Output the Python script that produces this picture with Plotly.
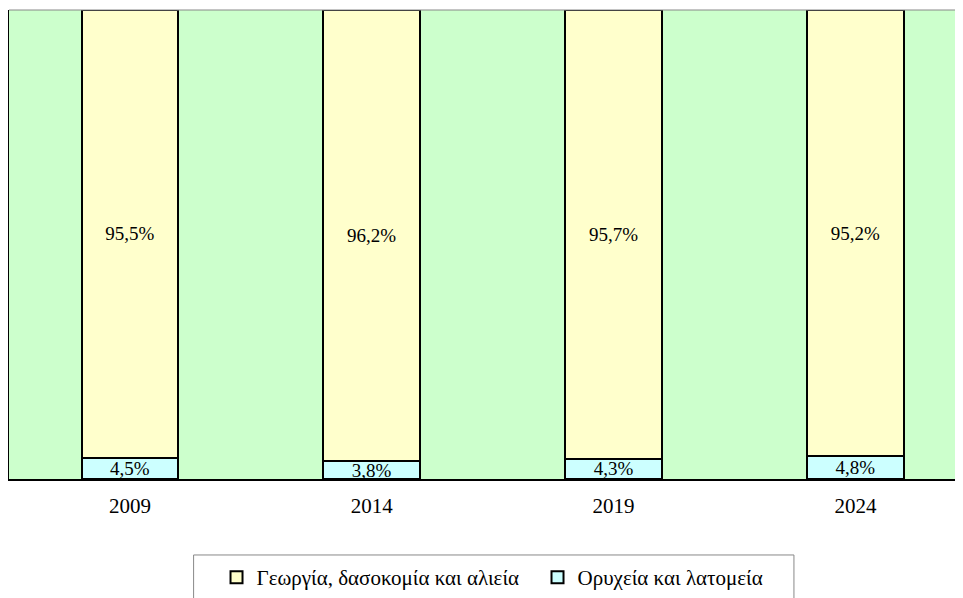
import plotly.graph_objects as go

years = ["2009", "2014", "2019", "2024"]
agri = [95.5, 96.2, 95.7, 95.2]
mining = [4.5, 3.8, 4.3, 4.8]
agri_name = "Γεωργία, δασοκομία και αλιεία"
mining_name = "Ορυχεία και λατομεία"

def fmt(v):
    return f"{v:.1f}".replace(".", ",") + "%"

FONT = "Liberation Serif, Times New Roman, serif"

fig = go.Figure()
fig.add_trace(go.Bar(
    x=years, y=mining, name=mining_name,
    marker=dict(color="#CCFFFF", line=dict(color="black", width=2)),
    text=[fmt(v) for v in mining], textposition="inside", insidetextanchor="middle",
    textfont=dict(family=FONT, size=19, color="black"), hoverinfo="skip",
))
fig.add_trace(go.Bar(
    x=years, y=agri, name=agri_name,
    marker=dict(color="#FFFFCC", line=dict(color="black", width=2)),
    text=[fmt(v) for v in agri], textposition="inside", insidetextanchor="middle",
    textfont=dict(family=FONT, size=19, color="black"), hoverinfo="skip",
))

fig.update_layout(
    width=955, height=590,
    margin=dict(l=1, r=0, t=2, b=119),
    barmode="stack", bargap=0.6,
    paper_bgcolor="white", plot_bgcolor="#CCFFCC",
    font=dict(family=FONT, size=19, color="black"),
    uniformtext=dict(minsize=19, mode="show"),
    showlegend=True,
    legend=dict(orientation="h", traceorder="reversed",
                x=0.554, xanchor="center", y=-0.211, yanchor="middle",
                font=dict(family=FONT, size=21, color="black"),
                bgcolor="rgba(0,0,0,0)", itemwidth=30,
                entrywidth=276, entrywidthmode="pixels"),
    xaxis=dict(type="category", range=[-0.5, 3.445], showgrid=False, zeroline=False,
               showline=True, linecolor="black", linewidth=1.5, ticks="",
               ticklabelstandoff=7, tickfont=dict(family=FONT, size=21)),
    yaxis=dict(range=[0, 100], showgrid=False, zeroline=False, showticklabels=False,
               showline=True, linecolor="black", linewidth=2, ticks=""),
    shapes=[
        dict(type="line", xref="paper", yref="paper", x0=0, x1=1, y0=1, y1=1,
             line=dict(color="#888888", width=1)),
        dict(type="rect", xref="paper", yref="paper", x0=0.1935, x1=0.8228,
             y0=-0.162, y1=-0.28, line=dict(color="#888888", width=1),
             fillcolor="rgba(0,0,0,0)"),
    ],
)

fig.write_html("out.html")
